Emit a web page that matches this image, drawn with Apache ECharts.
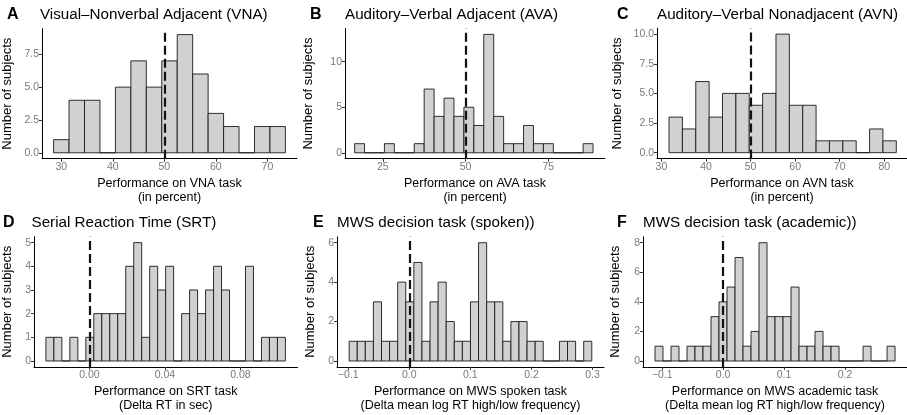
<!DOCTYPE html>
<html>
<head>
<meta charset="utf-8">
<script src="https://cdn.jsdelivr.net/npm/echarts@6/dist/echarts.min.js"></script>
<style>
  html, body { margin: 0; padding: 0; background: #fff; }
  #chart { width: 907px; height: 415px; }
</style>
</head>
<body>
<div id="chart"></div>
<script>
// counts per bin
var vnaCounts = [1, 4, 4, 0, 5, 7, 5, 7, 9, 6, 3, 2, 0, 2, 2];
var avaCounts = [1, 0, 0, 1, 0, 0, 1, 7, 4, 6, 4, 5, 3, 13, 4, 1, 1, 3, 1, 1, 0, 0, 0, 1];
var avnCounts = [3, 2, 6, 3, 5, 5, 4, 5, 10, 4, 4, 1, 1, 1, 0, 2, 1];
var srtCounts = [1, 1, 0, 1, 0, 1, 2, 2, 2, 2, 4, 5, 1, 4, 3, 4, 0, 2, 3, 2, 3, 4, 3, 0, 0, 4, 0, 1, 1, 1];
var spokenCounts = [1, 1, 1, 3, 1, 1, 4, 3, 5, 1, 3, 4, 2, 1, 1, 3, 6, 3, 3, 1, 2, 2, 1, 1, 0, 0, 1, 1, 0, 1];
var academicCounts = [1, 0, 1, 0, 1, 1, 1, 3, 4, 5, 7, 1, 2, 8, 3, 3, 3, 5, 1, 1, 2, 1, 1, 0, 0, 0, 1, 0, 0, 1];

// first bin edge and bin width
var binStarts = [28.5, 16.5, 31.7, -0.0231, -0.0984, -0.1119];
var binWidths = [3, 3, 3, 0.00423, 0.01324, 0.01314];

// reference lines (chance level / zero)
var refLines = [50, 50, 50, 0, 0, 0];

var letters = ['A', 'B', 'C', 'D', 'E', 'F'];
var titles = [
  'Visual\u2013Nonverbal Adjacent (VNA)',
  'Auditory\u2013Verbal Adjacent (AVA)',
  'Auditory\u2013Verbal Nonadjacent (AVN)',
  'Serial Reaction Time (SRT)',
  'MWS decision task (spoken))',
  'MWS decision task (academic))'
];
var xNames = [
  'Performance on VNA task\n(in percent)',
  'Performance on AVA task\n(in percent)',
  'Performance on AVN task\n(in percent)',
  'Performance on SRT task\n(Delta RT in sec)',
  'Performance on MWS spoken task\n(Delta mean log RT high/low frequency)',
  'Performance on MWS academic task\n(Delta mean log RT high/low frequency)'
];

// tick labels
var xTicks = [
  [30, 40, 50, 60, 70],
  [25, 50, 75],
  [30, 40, 50, 60, 70, 80],
  [0, 0.04, 0.08],
  [-0.1, 0, 0.1, 0.2, 0.3],
  [-0.1, 0, 0.1, 0.2]
];
var xDecimals = [0, 0, 0, 2, 1, 1];
var yTicks = [
  [0, 2.5, 5, 7.5],
  [0, 5, 10],
  [0, 2.5, 5, 7.5, 10],
  [0, 1, 2, 3, 4, 5],
  [0, 2, 4, 6],
  [0, 2, 4, 6, 8]
];
var yDecimals = [1, 0, 1, 0, 0, 0];

// axis extents (ggplot-style padding)
var xMin = [26.25, 13.6, 29.0, -0.0294, -0.1183, -0.1316];
var xMax = [75.75, 92.1, 85.1, 0.1102, 0.3188, 0.3019];
var yMin = [-0.45, -0.65, -0.5, -0.25, -0.3, -0.4];
var yMax = [9.45, 13.65, 10.5, 5.25, 6.3, 8.4];

var panels = [vnaCounts, avaCounts, avnCounts, srtCounts, spokenCounts, academicCounts];

var grids = [
  { left: 40, top: 28.7, width: 257, height: 130 },
  { left: 345, top: 28.5, width: 260, height: 130.2 },
  { left: 657, top: 28.2, width: 252, height: 130.4 },
  { left: 31.5, top: 236.7, width: 266, height: 130.2 },
  { left: 337, top: 236.8, width: 267, height: 130.1 },
  { left: 643, top: 236.8, width: 267, height: 130.1 }
];
var yNameGap = [28, 30, 33, 20, 20.5, 21.5];
var letterLeft = [7, 310, 617, 3, 313, 617];

var FONT = 'Liberation Sans, Arial, Helvetica, sans-serif';

function fmt(v, d) {
  var s = Math.abs(v).toFixed(d);
  return v < 0 ? '\u2212' + s : s;
}

var myChart = echarts.init(document.getElementById('chart'));

var titleOption = [];
var xAxes = [];
var yAxes = [];
var seriesOption = [];

for (var i = 0; i < 6; i++) {
  var titleTop = i < 3 ? 7 : 215;
  titleOption.push(
    {
      text: letters[i], left: letterLeft[i], top: titleTop, padding: 0,
      textStyle: { fontFamily: FONT, fontSize: 16, fontWeight: 'bold', color: '#000' }
    },
    {
      text: titles[i], left: grids[i].left, top: titleTop, padding: 0,
      textStyle: { fontFamily: FONT, fontSize: 15.2, fontWeight: 'normal', color: '#000' }
    }
  );

  (function (k) {
    xAxes.push({
      type: 'value', gridIndex: k, min: xMin[k], max: xMax[k],
      splitLine: { show: false },
      axisLine: { show: true, onZero: false, lineStyle: { color: '#000', width: 1 } },
      axisTick: { show: true, length: 3, customValues: xTicks[k], lineStyle: { color: '#333' } },
      axisLabel: {
        customValues: xTicks[k], margin: 3, color: '#7a7a7a', fontSize: 10.5, fontFamily: FONT,
        formatter: function (v) { return fmt(v, xDecimals[k]); }
      },
      name: xNames[k], nameLocation: 'middle', nameGap: 18,
      nameTextStyle: { fontFamily: FONT, fontSize: 12.5, color: '#000', lineHeight: 13.8, verticalAlign: 'top' }
    });
    yAxes.push({
      type: 'value', gridIndex: k, min: yMin[k], max: yMax[k],
      splitLine: { show: false },
      axisLine: { show: true, onZero: false, lineStyle: { color: '#000', width: 1 } },
      axisTick: { show: true, length: 3, customValues: yTicks[k], lineStyle: { color: '#333' } },
      axisLabel: {
        customValues: yTicks[k], margin: 3, color: '#7a7a7a', fontSize: 10.5, fontFamily: FONT,
        formatter: function (v) { return fmt(v, yDecimals[k]); }
      },
      name: 'Number of subjects', nameLocation: 'middle', nameGap: yNameGap[k],
      nameTextStyle: { fontFamily: FONT, fontSize: 13, color: '#000' }
    });

    var data = [];
    for (var j = 0; j < panels[k].length; j++) {
      data.push([binStarts[k] + j * binWidths[k], binStarts[k] + (j + 1) * binWidths[k], panels[k][j]]);
    }

    seriesOption.push({
      type: 'custom',
      xAxisIndex: k, yAxisIndex: k,
      encode: { x: [0, 1], y: 2 },
      data: data,
      renderItem: function (params, api) {
        var p0 = api.coord([api.value(0), 0]);
        var p1 = api.coord([api.value(1), api.value(2)]);
        return {
          type: 'rect',
          shape: { x: p0[0], y: p1[1], width: p1[0] - p0[0], height: p0[1] - p1[1] },
          style: { fill: '#d1d1d1', stroke: '#1a1a1a', lineWidth: 0.9 }
        };
      }
    });
    // dashed reference line
    seriesOption.push({
      type: 'line',
      xAxisIndex: k, yAxisIndex: k,
      data: [],
      markLine: {
        silent: true, symbol: ['none', 'none'], label: { show: false },
        lineStyle: { type: [9, 4], width: 2.2, color: '#111' },
        data: [{ xAxis: refLines[k] }]
      }
    });
  })(i);
}

var option = {
  backgroundColor: '#fff',
  animation: false,
  title: titleOption,
  grid: grids,
  xAxis: xAxes,
  yAxis: yAxes,
  series: seriesOption
};
myChart.setOption(option);
</script>
</body>
</html>
